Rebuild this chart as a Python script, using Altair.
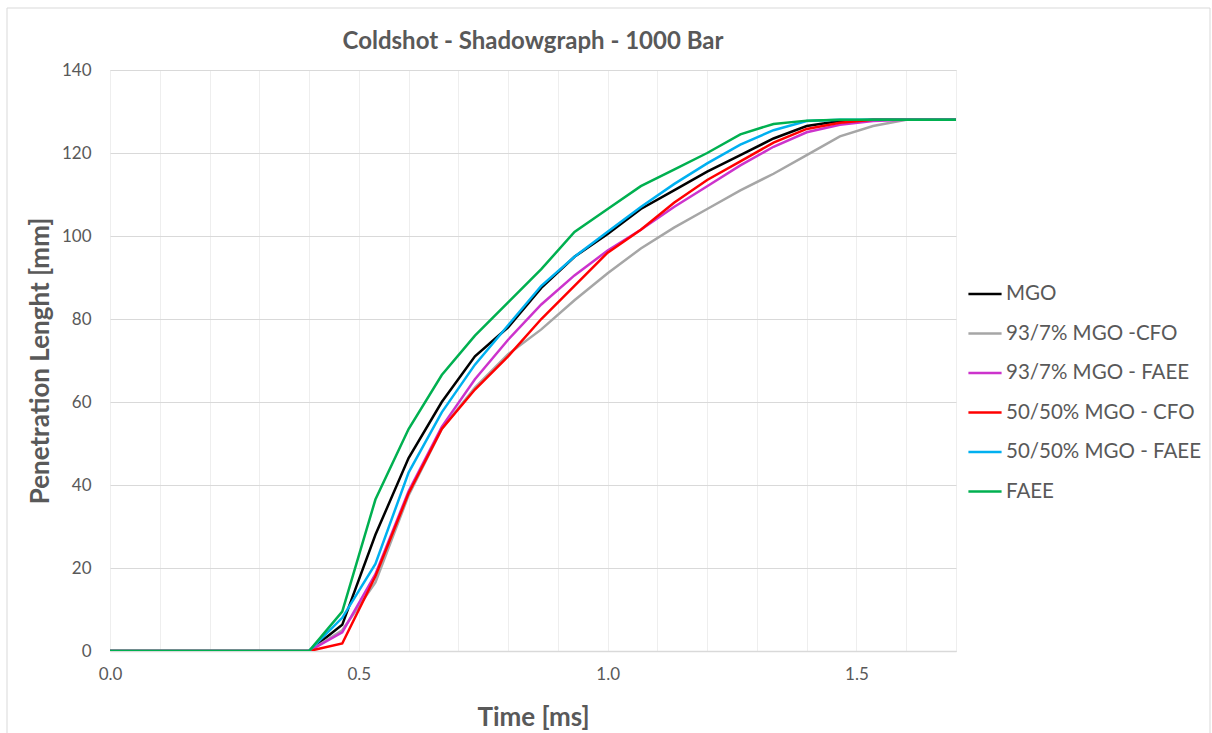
import altair as alt
import pandas as pd

# time axis: frames every 1/15 ms
frames = list(range(27))
times = [k / 15 for k in frames]

series_names = ["MGO", "93/7% MGO -CFO", "93/7% MGO - FAEE",
                "50/50% MGO - CFO", "50/50% MGO - FAEE", "FAEE"]
series_colors = ["#000000", "#a6a6a6", "#cc33cc", "#ff0000", "#00b0f0", "#00b050"]

zeros = [0, 0, 0, 0, 0, 0, 0]
mgo = zeros + [6.3, 28.0, 46.5, 60.0, 71.0, 78.0, 87.5, 95.0, 100.5, 106.5, 111.0,
               115.5, 119.5, 123.5, 126.5, 127.7, 128, 128, 128, 128]
cfo93 = zeros + [5.0, 16.5, 37.5, 53.5, 63.5, 71.5, 77.5, 84.5, 91.0, 97.0, 102.0,
                 106.5, 111.0, 115.0, 119.5, 124.0, 126.5, 128, 128, 128]
faee93 = zeros + [4.5, 18.5, 38.5, 54.0, 65.5, 75.0, 83.5, 90.5, 96.5, 101.5, 107.0,
                  112.0, 117.0, 121.5, 125.0, 126.8, 127.7, 128, 128, 128]
cfo50 = zeros + [1.8, 18.0, 38.0, 53.5, 63.0, 71.0, 80.0, 88.0, 96.0, 101.5, 108.0,
                 113.5, 118.0, 122.5, 125.8, 127.3, 128, 128, 128, 128]
faee50 = zeros + [8.0, 21.0, 43.0, 57.5, 69.0, 78.5, 88.0, 95.0, 101.0, 107.0, 112.5,
                  117.5, 122.0, 125.5, 127.7, 128, 128, 128, 128, 128]
faee = zeros + [9.5, 36.5, 53.5, 66.5, 76.0, 84.0, 92.0, 101.0, 106.5, 112.0, 116.0,
                120.0, 124.5, 127.0, 127.8, 128, 128, 128, 128, 128]

all_series = [mgo, cfo93, faee93, cfo50, faee50, faee]
title_text = "Coldshot - Shadowgraph - 1000 Bar"

rows = []
for name, vals in zip(series_names, all_series):
    for t, v in zip(times, vals):
        rows.append({"Time": t, "Penetration": v, "Series": name})
df = pd.DataFrame(rows)

FONT = "Lato"
TXT = "#595959"
W, H = 846, 581

lines = alt.Chart(df).mark_line(strokeWidth=2.5, clip=True).encode(
    x=alt.X("Time:Q",
            scale=alt.Scale(domain=[0, 1.7], nice=False, zero=False),
            axis=alt.Axis(values=[i / 10 for i in range(18)],
                          labelExpr="round(datum.value*10) % 5 == 0 ? format(datum.value, '.1f') : ''",
                          title="Time [ms]", grid=True, gridColor="#eeeeee",
                          ticks=False, domainColor="#d9d9d9", domainWidth=1.5,
                          labelFlush=False, labelPadding=15, labelFontSize=17,
                          labelColor=TXT, labelFont=FONT, titleFont=FONT,
                          titleFontSize=26, titleColor=TXT, titleFontWeight="bold",
                          titleY=66, titleBaseline="middle")),
    y=alt.Y("Penetration:Q",
            scale=alt.Scale(domain=[0, 140], nice=False),
            axis=alt.Axis(values=list(range(0, 141, 20)),
                          title="Penetration Lenght [mm]", grid=True,
                          gridColor="#d9d9d9", gridWidth=1.2, ticks=False, domain=False,
                          labelFlush=False, labelPadding=19, labelFontSize=17,
                          labelColor=TXT, labelFont=FONT, titleFont=FONT,
                          titleFontSize=26, titleColor=TXT, titleFontWeight="bold",
                          titleX=-70, titleY=H / 2, titleAlign="center",
                          titleBaseline="middle")),
    color=alt.Color("Series:N",
                    scale=alt.Scale(domain=series_names, range=series_colors),
                    sort=series_names,
                    legend=alt.Legend(title=None, orient="none", legendX=857, legendY=206,
                                      symbolType="stroke", symbolSize=1100,
                                      symbolStrokeWidth=2.5, labelFontSize=20.5,
                                      labelFont=FONT, labelColor=TXT, rowPadding=10.5,
                                      labelOffset=3, labelLimit=0, padding=0)),
    order=alt.Order("Time:Q"),
)

border = alt.Chart(pd.DataFrame({"a": [0]})).mark_rect(
    fill=None, stroke="#d9d9d9", strokeWidth=1
).encode(x=alt.value(-103), x2=alt.value(1100), y=alt.value(-62), y2=alt.value(680))

title = alt.Chart(pd.DataFrame({"t": [title_text]})).mark_text(
    font=FONT, fontSize=24, fontWeight="bold", color=TXT, align="center",
    baseline="middle"
).encode(text="t:N", x=alt.value(W / 2), y=alt.value(-28))

chart = alt.layer(border, lines, title).properties(
    width=W, height=H,
    autosize=alt.AutoSizeParams(type="none"),
    padding={"left": 110, "top": 70, "right": 256, "bottom": 82},
).configure_view(stroke=None).configure(background="white")

chart.save("out.html", embed_options={"renderer": "svg", "actions": False})
